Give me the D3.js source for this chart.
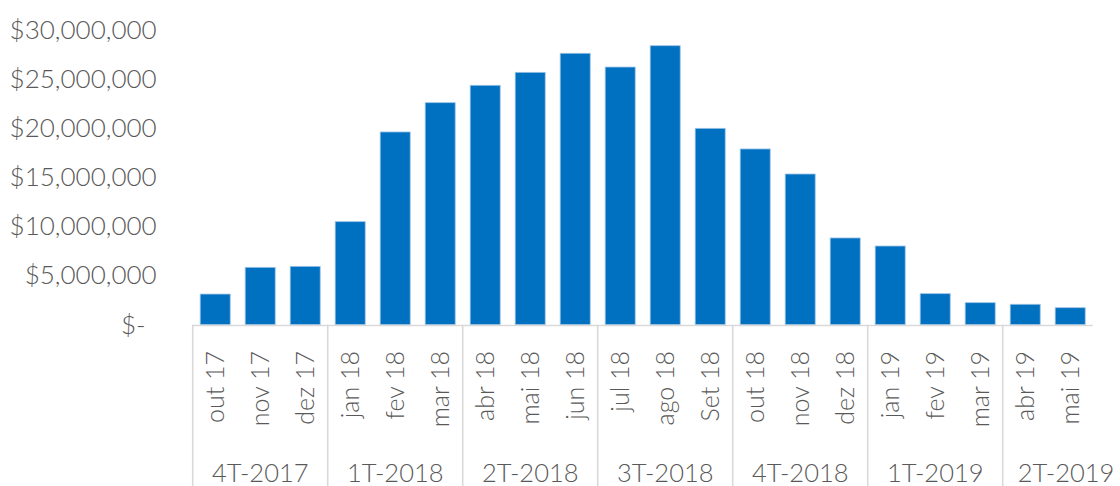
<!DOCTYPE html>
<html lang="pt">
<head>
  <meta charset="UTF-8">
  <title>Vendas mensais</title>
  <script src="https://d3js.org/d3.v7.min.js"></script>
  <style>
    body { margin: 0; background: #fff; }
    svg text { font-family: Lato, "Open Sans", sans-serif; font-weight: 300; fill: #595959; }
  </style>
</head>
<body>
  <div id="chart"></div>

  <script>
    // dados
    const meses = ["out 17", "nov 17", "dez 17", "jan 18", "fev 18", "mar 18", "abr 18", "mai 18",
                   "jun 18", "jul 18", "ago 18", "Set 18", "out 18", "nov 18", "dez 18", "jan 19",
                   "fev 19", "mar 19", "abr 19", "mai 19"];
    const vendas = [3120000, 5840000, 5940000, 10490000, 19620000, 22600000, 24370000, 25690000,
                    27630000, 26230000, 28400000, 19990000, 17890000, 15340000, 8830000, 8010000,
                    3160000, 2240000, 2080000, 1730000];
    const trimestres = ["4T-2017", "1T-2018", "2T-2018", "3T-2018", "4T-2018", "1T-2019", "2T-2019"];
    const mesesPorTrimestre = [3, 3, 3, 3, 3, 3, 2];
    const yTicks = [0, 5000000, 10000000, 15000000, 20000000, 25000000, 30000000];

    const W = 1120, H = 486;
    const x0 = 192.7, x1 = 1092.7, yBase = 324.7, yTop = 30;

    const svg = d3.select("#chart").append("svg")
                  .attr("width", W).attr("height", H);

    const x = d3.scaleBand()
                .domain(meses)
                .range([x0, x1])
                .paddingInner(1 / 3)
                .paddingOuter(1 / 6);

    const y = d3.scaleLinear()
                .domain([0, 30000000])
                .range([yBase, yTop]);

    const fmt = d3.format(",.0f");

    // eixo y (só rótulos)
    const yAxis = svg.append("g")
       .attr("transform", `translate(${x0}, 0)`)
       .call(d3.axisLeft(y).tickValues(yTicks).tickSize(0).tickPadding(36)
               .tickFormat(d => d === 0 ? "$-" : "$" + fmt(d)));
    yAxis.select(".domain").remove();
    yAxis.selectAll("text")
         .style("font-size", "26px")
         .attr("dx", d => d === 0 ? -11 : 0);

    // barras
    svg.selectAll(".bar")
       .data(meses)
       .enter()
       .append("rect")
       .attr("class", "bar")
       .attr("x", d => x(d))
       .attr("y", (d, i) => y(vendas[i]))
       .attr("width", x.bandwidth())
       .attr("height", (d, i) => yBase - y(vendas[i]))
       .attr("fill", "#0070C0")
       .attr("stroke", "#9cc3e5")
       .attr("stroke-width", 0.8);

    // linha do eixo x
    svg.append("line")
       .attr("x1", x0).attr("x2", x1)
       .attr("y1", yBase + 0.8).attr("y2", yBase + 0.8)
       .attr("stroke", "#d9d9d9").attr("stroke-width", 1.6);

    // rótulos dos meses (rotacionados)
    svg.selectAll(".mes")
       .data(meses)
       .enter()
       .append("text")
       .attr("class", "mes")
       .attr("transform", d => `translate(${x(d) + x.bandwidth() / 2}, 351) rotate(-90)`)
       .attr("text-anchor", "end")
       .attr("dy", "0.36em")
       .style("font-size", "25px")
       .text(d => d);

    // trimestres: separadores e rótulos
    const limite = i => x(meses[i]) - x.step() * x.paddingInner() / 2;
    let inicio = 0;
    trimestres.forEach((t, k) => {
      const fim = inicio + mesesPorTrimestre[k];
      const xa = limite(inicio);
      const xb = fim < meses.length ? limite(fim) : x1;
      svg.append("line")
         .attr("x1", xa).attr("x2", xa)
         .attr("y1", yBase).attr("y2", H)
         .attr("stroke", "#d9d9d9").attr("stroke-width", 1.6);
      svg.append("text")
         .attr("x", k === trimestres.length - 1 ? 1066 : (xa + xb) / 2)
         .attr("y", 482)
         .attr("text-anchor", "middle")
         .style("font-size", "25.5px")
         .text(t);
      inicio = fim;
    });
  </script>
</body>
</html>
